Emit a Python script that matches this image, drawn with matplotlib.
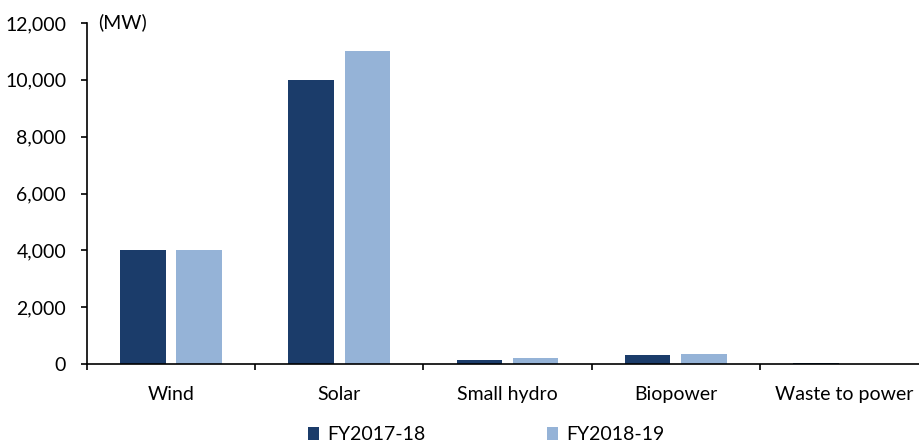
import matplotlib
matplotlib.use("Agg")
import matplotlib.pyplot as plt
import numpy as np

categories = ["Wind", "Solar", "Small hydro", "Biopower", "Waste to power"]
fy2017_18 = [4000, 10000, 150, 305, 30]
fy2018_19 = [4000, 11000, 220, 360, 10]
series_names = ["FY2017-18", "FY2018-19"]
yticks = [0, 2000, 4000, 6000, 8000, 10000, 12000]

plt.rcParams['font.family'] = ['Lato', 'DejaVu Sans']
dark = "#1B3C6A"
light = "#95B3D7"
fs = 14

fig = plt.figure(figsize=(9.19, 4.43), dpi=100)
ax = fig.add_axes([87/919, 1-364/443, 841/919, (364-23)/443])

x = np.arange(len(categories))
w = 0.272
off = 0.167
ax.bar(x - off, fy2017_18, width=w, color=dark, label=series_names[0])
ax.bar(x + off, fy2018_19, width=w, color=light, label=series_names[1])

ax.set_xlim(-0.5, len(categories) - 0.5)
ax.set_ylim(0, 12000)
ax.set_yticks(yticks)
ax.set_yticklabels([f"{v:,}" for v in yticks], fontsize=fs)
ax.set_xticks(x)
ax.set_xticklabels(categories, fontsize=fs)
ax.tick_params(axis='x', length=0, pad=16)
ax.set_xticks(np.arange(len(categories) + 1) - 0.5, minor=True)
ax.tick_params(axis='x', which='minor', length=4, width=1.2, direction='out')
ax.tick_params(axis='y', length=4, width=1.2, direction='out', pad=11)
for s in ['top', 'right']:
    ax.spines[s].set_visible(False)
for s in ['left', 'bottom']:
    ax.spines[s].set_linewidth(1.2)

ax.text(98/919, 1-22/443, "(MW)", transform=fig.transFigure, fontsize=fs, va='center', ha='left')

fig.legend(loc='center', bbox_to_anchor=(486/919, 1-435/443), ncol=2, frameon=False,
           fontsize=fs, handlelength=0.6, handleheight=0.6, handletextpad=0.4,
           columnspacing=6.25)

fig.savefig("out.png", dpi=100)
